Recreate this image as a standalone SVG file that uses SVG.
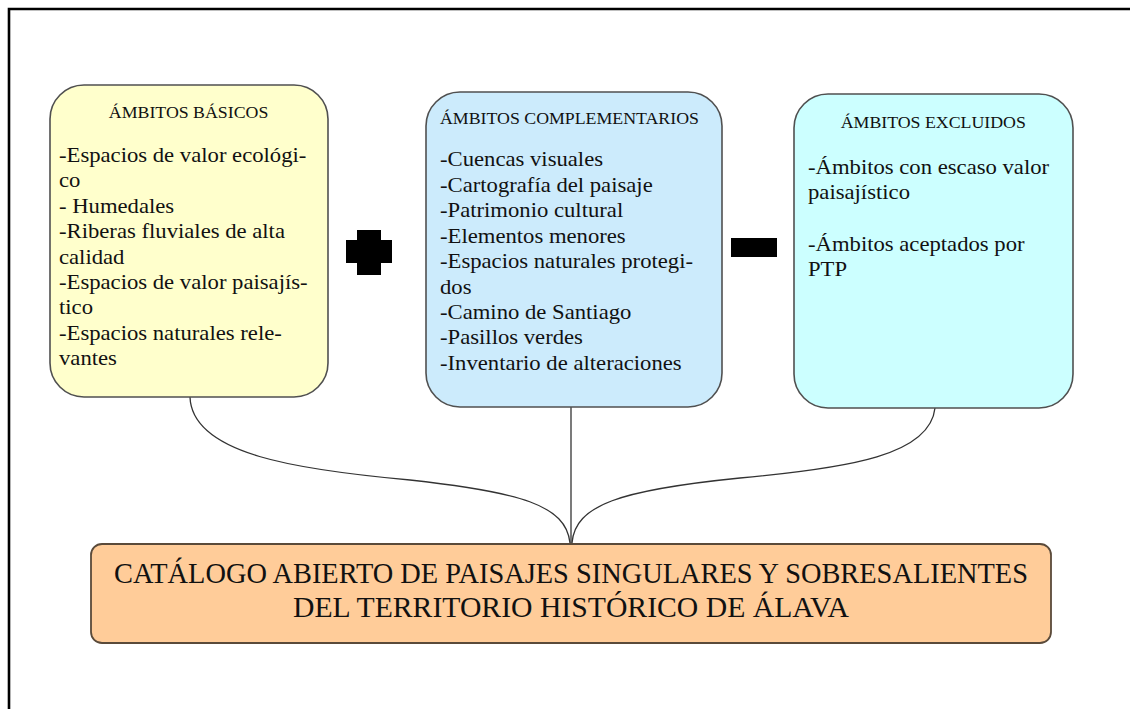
<svg xmlns="http://www.w3.org/2000/svg" width="1130" height="709" viewBox="0 0 1130 709">
<style>
.box{stroke:#505050;stroke-width:1.6}
.t{font-family:"Liberation Serif","Times New Roman",serif;fill:#111}
.title{font-size:16.5px}
.item{font-size:21px}
.big{font-family:"Liberation Serif","Times New Roman",serif;font-size:29px;fill:#111}
.conn{fill:none;stroke:#333;stroke-width:1.3}
</style>
<rect width="1130" height="709" fill="#fff"/>
<path d="M9,709 V9 H1130" fill="none" stroke="#000" stroke-width="2.6"/>

<g id="connectors">
<path class="conn" d="M190,397 C192,455 300,470 410,480 C520,492 566,505 570,543"/>
<path class="conn" d="M571,407 V543"/>
<path class="conn" d="M935,408 C930,455 850,468 740,478 C620,490 575,505 572,543"/>
</g>

<g id="basicos">
<rect class="box" x="50" y="85" width="278" height="312" rx="34" fill="#FFFFCC"/>
<g class="t" transform="translate(59,0) scale(1.08,1)">
<text class="title" x="120" y="118" text-anchor="middle">ÁMBITOS BÁSICOS</text>
<g class="item">
<text x="0" y="162">-Espacios de valor ecológi-</text>
<text x="0" y="187.4">co</text>
<text x="0" y="212.8">- Humedales</text>
<text x="0" y="238.2">-Riberas fluviales de alta</text>
<text x="0" y="263.6">calidad</text>
<text x="0" y="289">-Espacios de valor paisajís-</text>
<text x="0" y="314.4">tico</text>
<text x="0" y="339.8">-Espacios naturales rele-</text>
<text x="0" y="365.2">vantes</text>
</g>
</g>
</g>

<g id="mas">
<path d="M357,230 H381 V240 H392 V263 H381 V275 H357 V263 H346 V240 H357 Z" fill="#000"/>
</g>

<g id="complementarios">
<rect class="box" x="426" y="92" width="296" height="315" rx="34" fill="#CCEBFC"/>
<g class="t" transform="translate(440,0) scale(1.08,1)">
<text class="title" x="0" y="124">ÁMBITOS COMPLEMENTARIOS</text>
<g class="item">
<text x="0" y="166">-Cuencas visuales</text>
<text x="0" y="192">-Cartografía del paisaje</text>
<text x="0" y="217">-Patrimonio cultural</text>
<text x="0" y="243">-Elementos menores</text>
<text x="0" y="268">-Espacios naturales protegi-</text>
<text x="0" y="294">dos</text>
<text x="0" y="319">-Camino de Santiago</text>
<text x="0" y="344">-Pasillos verdes</text>
<text x="0" y="370">-Inventario de alteraciones</text>
</g>
</g>
</g>

<g id="menos">
<rect x="731" y="238" width="46" height="19" fill="#000"/>
</g>

<g id="excluidos">
<rect class="box" x="794" y="94" width="279" height="314" rx="34" fill="#CCFFFF"/>
<g class="t" transform="translate(808,0) scale(1.08,1)">
<text class="title" x="116" y="128" text-anchor="middle">ÁMBITOS EXCLUIDOS</text>
<g class="item">
<text x="0" y="174">-Ámbitos con escaso valor</text>
<text x="0" y="199">paisajístico</text>
<text x="0" y="251">-Ámbitos aceptados por</text>
<text x="0" y="276">PTP</text>
</g>
</g>
</g>

<g id="catalogo">
<rect x="91" y="544" width="960" height="99" rx="11" fill="#FFCC99" stroke="#5a4a3a" stroke-width="1.8"/>
<text class="big" x="571" y="583" text-anchor="middle" textLength="914" lengthAdjust="spacingAndGlyphs">CATÁLOGO ABIERTO DE PAISAJES SINGULARES Y SOBRESALIENTES</text>
<text class="big" x="571" y="617" text-anchor="middle" textLength="556" lengthAdjust="spacingAndGlyphs">DEL TERRITORIO HISTÓRICO DE ÁLAVA</text>
</g>
</svg>
